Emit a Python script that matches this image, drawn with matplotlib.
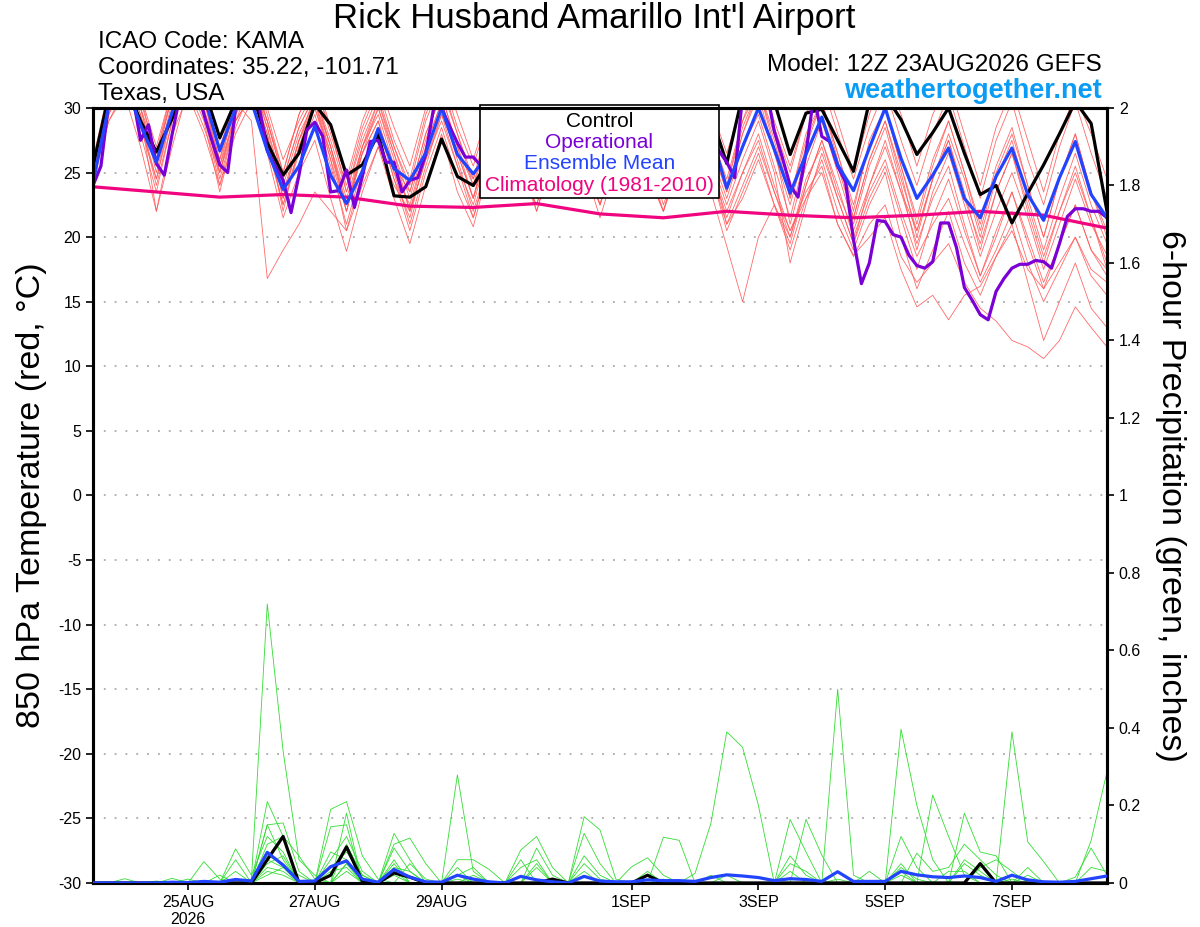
import numpy as np
import pandas as pd
import matplotlib
matplotlib.use("Agg")
import matplotlib.pyplot as plt
from matplotlib.patches import Rectangle

plt.rcParams['font.family'] = ['Liberation Sans', 'DejaVu Sans']
plt.rcParams['axes.unicode_minus'] = False

# time axis: GEFS 12Z 23AUG2026, 6-hourly to 384h; operational 3-hourly
times6 = pd.date_range('2026-08-23 12:00', periods=65, freq='6h')
times3 = pd.date_range('2026-08-23 12:00', periods=129, freq='3h')

tick_dates = ['2026-08-25', '2026-08-27', '2026-08-29', '2026-09-01',
              '2026-09-03', '2026-09-05', '2026-09-07']
tick_labels = ['25AUG\n2026', '27AUG', '29AUG', '1SEP', '3SEP', '5SEP', '7SEP']

# 850 hPa temperature (C)
control_t = [25.5, 31.0, 32.0, 29.0, 26.6, 29.2, 32.5, 31.5, 27.7, 30.5, 31.5, 27.3,
             24.8, 26.5, 30.3, 28.7, 24.8, 25.6, 28.0, 23.2, 23.1, 23.9, 27.6, 24.7,
             24.0, 26.0, 30.5, 28.0, 25.5, 28.0, 31.0, 28.0, 26.0, 28.0, 31.0, 29.0,
             26.5, 28.5, 31.0, 29.5, 25.7, 31.0, 31.5, 30.5, 26.4, 29.6, 29.9, 27.5,
             25.1, 30.5, 31.0, 29.1, 26.4, 28.1, 30.0, 26.5, 23.3, 24.0, 21.1, 23.4,
             25.6, 28.0, 30.5, 28.8, 22.0]
mean_t = [24.2, 30.2, 32.0, 28.7, 25.8, 29.7, 32.5, 31.0, 26.7, 30.0, 30.5, 26.7,
          23.7, 25.5, 28.6, 24.8, 22.6, 25.1, 28.4, 25.3, 24.4, 26.5, 30.0, 26.4,
          24.9, 26.5, 30.0, 27.0, 25.0, 27.0, 30.5, 27.5, 25.0, 27.0, 30.0, 28.0,
          25.5, 27.0, 30.0, 28.0, 23.8, 27.0, 30.0, 26.8, 23.4, 26.4, 29.3, 25.6,
          23.6, 26.9, 30.0, 26.1, 23.0, 24.8, 26.9, 23.0, 21.5, 24.7, 26.9, 23.3,
          21.3, 24.6, 27.4, 23.3, 21.5]
oper_t = [24.0, 25.5, 30.5, 32.0, 33.0, 31.0, 27.5, 28.7, 25.7, 24.8, 28.0, 31.0,
          32.5, 32.0, 29.5, 27.5, 25.6, 25.0, 30.0, 31.5, 32.0, 30.0, 26.7, 25.5,
          24.4, 21.9, 24.8, 28.3, 28.9, 27.8, 23.5, 23.6, 25.2, 22.3, 24.7, 27.4,
          27.5, 25.8, 25.8, 23.5, 24.4, 24.6, 26.4, 30.0, 30.0, 28.6, 27.3, 26.2,
          26.2, 25.5, 26.0, 29.0, 31.0, 30.0, 28.0, 26.5, 25.5, 27.0, 30.0, 31.5,
          30.0, 28.0, 26.0, 25.5, 26.5, 29.0, 31.0, 30.0, 28.0, 26.0, 25.0, 26.5,
          29.0, 30.5, 30.0, 28.5, 26.5, 25.5, 27.0, 26.7, 25.8, 24.6, 31.0, 32.0,
          32.5, 31.5, 28.2, 26.2, 24.0, 23.1, 26.5, 31.0, 27.8, 27.4, 25.5, 24.3,
          19.8, 16.4, 18.0, 21.3, 21.2, 20.2, 20.0, 18.6, 17.8, 17.6, 18.1, 21.1,
          21.1, 19.2, 16.1, 15.1, 14.0, 13.6, 15.8, 16.8, 17.6, 17.9, 17.9, 18.2,
          18.1, 17.6, 19.5, 21.6, 22.2, 22.2, 22.0, 22.0, 21.5]
# climatology at 12Z each day
clim_times = pd.date_range('2026-08-23 12:00', periods=17, freq='24h')
clim_t = [23.9, 23.5, 23.1, 23.3, 23.1, 22.4, 22.3, 22.6, 21.8, 21.5, 22.0, 21.7,
          21.5, 21.7, 22.0, 21.7, 20.7]

# ensemble members (temperature)
t_m01 = [25.0, 30.5, 32.5, 28.5, 24.5, 30.0, 33.0, 30.5, 26.0, 31.0, 32.0, 28.0,
         23.0, 27.5, 30.5, 26.0, 22.0, 27.0, 29.5, 25.5, 23.5, 28.0, 31.0, 27.0,
         24.0, 27.5, 30.5, 26.0, 23.0, 26.5, 29.5, 25.5, 22.5, 27.0, 30.0, 26.0,
         23.0, 28.0, 31.0, 27.0, 24.0, 29.0, 31.5, 28.0, 23.0, 28.0, 30.5, 26.5,
         22.0, 27.5, 30.0, 25.5, 21.5, 26.0, 29.0, 25.0, 21.0, 25.5, 28.5, 24.0,
         20.0, 24.5, 28.0, 23.5, 20.5]
t_m02 = [24.5, 29.0, 31.5, 29.0, 26.0, 31.0, 33.0, 31.0, 27.0, 30.5, 29.0, 16.8,
         19.0, 21.0, 23.5, 22.0, 20.5, 24.0, 27.0, 24.0, 22.0, 26.0, 29.5, 26.5,
         24.5, 28.0, 31.5, 28.0, 25.0, 28.5, 32.0, 28.5, 24.0, 27.5, 31.0, 27.0,
         23.5, 27.0, 30.5, 26.0, 21.0, 23.0, 26.0, 22.5, 19.5, 24.0, 27.5, 24.0,
         20.0, 23.5, 26.0, 22.0, 18.5, 21.0, 23.0, 19.5, 16.5, 19.0, 22.0, 18.0,
         15.0, 17.5, 20.0, 17.0, 15.5]
t_m03 = [25.5, 31.0, 33.0, 30.0, 25.0, 30.0, 32.5, 29.5, 25.5, 29.5, 31.5, 27.5,
         22.5, 26.5, 29.5, 25.5, 21.0, 25.5, 28.5, 24.5, 21.5, 26.5, 30.0, 26.0,
         22.0, 26.0, 29.0, 25.0, 22.5, 26.5, 30.5, 27.0, 23.0, 27.5, 31.0, 27.0,
         23.5, 27.0, 28.0, 23.5, 19.3, 15.0, 20.0, 22.5, 20.0, 24.0, 27.5, 23.5,
         20.5, 24.0, 27.5, 23.5, 19.5, 23.0, 25.5, 21.0, 17.0, 20.5, 23.5, 19.5,
         16.0, 19.5, 22.5, 19.0, 17.5]
t_m04 = [24.0, 29.5, 32.0, 29.0, 24.0, 29.0, 31.5, 28.5, 25.0, 29.0, 31.0, 27.5,
         23.5, 27.5, 30.0, 26.5, 22.0, 26.5, 29.0, 25.0, 22.5, 27.0, 30.5, 26.5,
         23.0, 27.5, 31.0, 27.0, 24.0, 28.0, 31.5, 27.5, 23.5, 27.0, 30.0, 26.0,
         22.0, 25.5, 29.0, 25.5, 22.0, 25.0, 28.0, 24.0, 20.5, 23.5, 25.5, 21.0,
         18.5, 21.0, 22.5, 18.5, 16.5, 18.0, 19.5, 16.5, 14.5, 13.5, 12.0, 11.5,
         10.6, 12.0, 14.6, 13.0, 11.5]
t_m05 = [25.0, 30.0, 32.5, 29.5, 22.0, 28.0, 31.0, 28.0, 24.0, 29.0, 32.0, 29.0,
         24.5, 28.5, 31.0, 27.5, 23.5, 27.5, 30.5, 26.5, 22.0, 26.0, 29.0, 25.5,
         21.5, 25.5, 28.5, 25.0, 22.5, 27.0, 30.0, 26.5, 23.0, 27.5, 30.5, 27.0,
         22.5, 26.0, 28.5, 25.0, 21.0, 24.0, 27.0, 23.5, 20.5, 23.0, 25.0, 21.0,
         18.6, 20.0, 21.5, 17.5, 14.6, 15.5, 13.6, 15.5, 16.2, 18.5, 20.5, 17.5,
         16.0, 18.0, 20.0, 17.5, 16.5]
t_m06 = [24.5, 29.0, 31.0, 27.0, 22.0, 27.0, 31.5, 29.5, 25.5, 30.5, 33.0, 29.0,
         25.0, 29.5, 32.0, 28.0, 24.0, 28.5, 31.5, 27.5, 24.5, 29.5, 32.5, 28.5,
         25.5, 29.5, 32.0, 28.5, 24.5, 28.5, 31.5, 27.0, 23.5, 28.0, 31.0, 27.5,
         24.0, 28.5, 32.0, 28.0, 24.5, 29.0, 32.5, 28.5, 25.0, 29.5, 32.0, 28.0,
         24.5, 28.5, 31.5, 27.5, 24.0, 28.0, 31.0, 27.0, 23.0, 27.5, 30.5, 26.0,
         22.5, 27.0, 30.5, 26.5, 23.0]
t_m07 = [25.0, 30.5, 33.0, 30.5, 26.5, 31.0, 33.5, 30.0, 24.5, 29.0, 31.0, 26.5,
         21.5, 25.0, 27.5, 23.0, 18.9, 23.5, 27.0, 23.0, 19.5, 24.0, 28.0, 23.5,
         20.8, 25.5, 29.0, 25.5, 22.0, 26.5, 30.0, 26.0, 22.5, 27.0, 30.5, 26.5,
         23.0, 27.0, 30.0, 26.0, 22.5, 26.0, 29.0, 25.0, 18.0, 22.5, 26.5, 23.0,
         19.5, 24.0, 27.0, 23.5, 20.5, 24.5, 27.5, 23.5, 19.0, 23.5, 26.5, 22.5,
         18.5, 22.0, 25.0, 21.5, 18.0]
t_m08 = [25.5, 30.0, 32.0, 29.0, 24.5, 29.5, 32.0, 29.0, 23.5, 28.5, 31.5, 28.0,
         22.0, 27.0, 30.0, 26.0, 20.5, 25.0, 28.5, 25.0, 21.0, 25.5, 29.5, 25.5,
         22.5, 27.0, 30.5, 27.0, 23.5, 28.0, 31.5, 28.0, 24.5, 28.5, 31.5, 28.0,
         24.0, 27.5, 30.5, 26.5, 23.0, 27.0, 29.5, 25.5, 21.5, 26.5, 29.0, 25.0,
         21.0, 25.5, 28.5, 24.0, 19.0, 23.5, 26.5, 22.5, 18.5, 22.0, 25.0, 21.5,
         17.5, 21.0, 24.5, 21.0, 18.6]
t_m09 = [24.0, 30.0, 33.5, 31.0, 27.0, 31.5, 34.0, 31.5, 27.5, 31.0, 33.5, 30.0,
         26.0, 29.0, 31.5, 28.5, 24.5, 29.0, 32.0, 28.5, 25.5, 30.0, 33.0, 29.5,
         26.0, 30.0, 32.5, 29.0, 25.0, 29.5, 32.5, 29.0, 25.5, 30.0, 33.0, 29.5,
         26.0, 30.5, 33.5, 30.0, 26.5, 30.5, 33.0, 29.0, 25.5, 29.5, 32.5, 29.0,
         25.0, 29.5, 33.0, 29.5, 25.5, 29.5, 32.0, 28.0, 24.0, 28.5, 31.5, 27.5,
         23.5, 28.0, 31.0, 28.0, 24.5]
t_m10 = [25.5, 31.0, 33.0, 29.5, 25.5, 30.5, 33.0, 30.0, 26.0, 30.0, 32.5, 28.5,
         24.0, 28.0, 30.5, 26.5, 22.5, 26.5, 29.0, 24.5, 20.5, 25.0, 28.5, 24.5,
         21.5, 26.0, 29.5, 26.0, 23.0, 27.0, 30.0, 26.5, 22.5, 26.0, 29.0, 25.0,
         22.0, 26.5, 29.5, 25.5, 21.5, 25.0, 27.5, 23.5, 20.0, 24.5, 27.0, 23.0,
         19.5, 23.0, 25.5, 21.5, 17.5, 21.5, 24.5, 20.5, 17.0, 20.0, 23.5, 20.0,
         16.5, 19.5, 22.5, 19.0, 17.0]
t_m11 = [24.5, 29.5, 32.5, 30.0, 26.5, 31.5, 34.0, 31.0, 25.0, 29.5, 32.0, 28.5,
         23.0, 27.5, 31.0, 27.0, 23.0, 27.0, 30.0, 26.5, 23.0, 27.5, 31.5, 28.0,
         24.0, 28.5, 31.5, 27.5, 24.5, 28.5, 31.0, 27.0, 24.0, 28.0, 31.5, 28.0,
         24.5, 28.5, 31.5, 27.5, 23.5, 28.0, 31.0, 26.5, 22.5, 27.0, 30.5, 26.5,
         22.5, 27.0, 30.0, 25.5, 21.0, 25.5, 29.0, 25.0, 20.5, 25.0, 28.0, 24.0,
         20.0, 24.5, 28.0, 23.5, 20.0]
t_m12 = [25.0, 30.5, 33.0, 30.0, 25.5, 30.0, 32.5, 29.5, 24.0, 28.0, 30.5, 27.0,
         22.5, 27.0, 30.5, 27.0, 22.5, 27.0, 30.5, 27.0, 23.5, 28.0, 31.0, 27.0,
         23.0, 27.0, 30.0, 26.5, 22.0, 26.0, 29.0, 25.5, 21.5, 25.5, 28.5, 25.0,
         22.0, 26.0, 29.0, 25.0, 20.5, 23.5, 26.5, 22.5, 19.0, 23.0, 26.0, 22.0,
         19.0, 22.5, 25.0, 20.0, 16.0, 19.0, 22.0, 18.0, 15.5, 18.5, 21.0, 16.5,
         12.0, 15.0, 18.0, 14.5, 13.0]
t_m13 = [26.0, 31.5, 34.0, 31.0, 26.0, 31.0, 33.5, 30.5, 26.5, 31.0, 33.0, 29.5,
         25.0, 29.5, 32.5, 28.5, 23.5, 28.0, 31.0, 27.0, 24.0, 29.0, 32.0, 28.0,
         24.5, 29.0, 32.0, 28.0, 24.0, 28.5, 31.5, 28.0, 24.5, 29.0, 32.0, 28.5,
         25.0, 29.5, 32.5, 28.5, 24.0, 28.5, 31.5, 27.0, 21.0, 25.5, 29.0, 25.5,
         21.5, 26.0, 29.0, 25.0, 20.0, 24.5, 28.0, 24.5, 20.0, 24.5, 27.5, 23.0,
         19.0, 23.0, 26.5, 22.5, 19.5]
t_m14 = [25.0, 30.0, 32.5, 28.0, 23.5, 29.0, 32.5, 29.5, 25.0, 30.0, 32.5, 29.0,
         24.5, 28.5, 31.0, 27.0, 22.0, 26.5, 30.0, 26.0, 22.0, 27.0, 30.5, 26.5,
         23.0, 28.0, 31.5, 27.5, 23.5, 28.0, 31.0, 27.5, 24.0, 28.5, 31.0, 27.0,
         23.0, 27.5, 30.5, 27.0, 23.5, 28.0, 31.5, 27.5, 23.0, 27.5, 30.5, 26.0,
         21.5, 26.0, 29.0, 24.5, 20.5, 24.5, 27.5, 23.0, 19.5, 23.5, 26.5, 22.0,
         18.0, 22.0, 25.5, 21.5, 17.5]
temp_members = [t_m01, t_m02, t_m03, t_m04, t_m05, t_m06, t_m07,
                t_m08, t_m09, t_m10, t_m11, t_m12, t_m13, t_m14]

# 6-hour precipitation (inches)
control_p = [0, 0, 0, 0, 0, 0, 0, 0, 0, 0, 0, 0.06,
             0.12, 0, 0, 0.02, 0.093, 0.005, 0, 0.026, 0.015, 0, 0, 0,
             0, 0, 0, 0, 0, 0.01, 0, 0, 0, 0, 0, 0.02,
             0, 0, 0, 0, 0, 0, 0, 0, 0, 0, 0, 0,
             0, 0, 0, 0, 0, 0, 0, 0, 0.05, 0, 0, 0,
             0, 0, 0, 0, 0]
mean_p = [0, 0, 0, 0, 0, 0.002, 0.001, 0.004, 0.002, 0.009, 0.005, 0.079,
          0.046, 0.004, 0.005, 0.042, 0.057, 0.01, 0.002, 0.035, 0.015, 0.003, 0.002, 0.02,
          0.01, 0.003, 0, 0.017, 0.008, 0.003, 0, 0.017, 0.005, 0.003, 0.003, 0.008,
          0.006, 0.006, 0.004, 0.014, 0.021, 0.018, 0.014, 0.006, 0.011, 0.009, 0.004, 0.029,
          0.004, 0.004, 0.004, 0.03, 0.021, 0.016, 0.014, 0.018, 0.014, 0.004, 0.02, 0.008,
          0.003, 0.002, 0.004, 0.011, 0.018]

# ensemble members (precip), non-zero 6h steps only
p_m01 = {10: 0.01, 11: 0.72, 12: 0.34, 13: 0.06, 14: 0.02, 19: 0.03, 23: 0.02, 31: 0.02,
         38: 0.025, 39: 0.154, 40: 0.39, 41: 0.35, 42: 0.2, 47: 0.03, 51: 0.02, 58: 0.01}
p_m02 = {11: 0.21, 12: 0.12, 15: 0.19, 16: 0.21, 17: 0.07, 18: 0.01, 47: 0.5, 48: 0.02,
         51: 0.12, 52: 0.04}
p_m03 = {11: 0.15, 12: 0.155, 13: 0.03, 16: 0.18, 19: 0.128, 20: 0.06, 23: 0.279, 24: 0.03,
         51: 0.397, 52: 0.2, 53: 0.06}
p_m04 = {5: 0.012, 9: 0.088, 10: 0.02, 11: 0.12, 12: 0.08, 15: 0.145, 16: 0.15, 19: 0.1,
         20: 0.116, 21: 0.05, 27: 0.085, 28: 0.12, 29: 0.04, 31: 0.171, 32: 0.137, 33: 0.01,
         36: 0.118, 37: 0.11}
p_m05 = {2: 0.011, 7: 0.055, 8: 0.01, 11: 0.1, 12: 0.12, 13: 0.07, 14: 0.01, 16: 0.1,
         17: 0.02, 23: 0.06, 24: 0.06, 25: 0.035, 31: 0.128, 32: 0.05, 44: 0.164, 45: 0.08,
         53: 0.227, 54: 0.12, 55: 0.02}
p_m06 = {9: 0.06, 11: 0.07, 12: 0.05, 15: 0.08, 16: 0.06, 19: 0.09, 20: 0.03, 28: 0.09,
         29: 0.02, 34: 0.042, 35: 0.065, 36: 0.02, 45: 0.164, 46: 0.072, 55: 0.18, 56: 0.08,
         57: 0.07}
p_m07 = {8: 0.02, 11: 0.05, 12: 0.07, 15: 0.06, 16: 0.12, 17: 0.03, 23: 0.04, 27: 0.06,
         31: 0.07, 32: 0.02, 39: 0.02, 44: 0.07, 45: 0.02, 51: 0.05, 58: 0.39, 59: 0.106,
         60: 0.055}
p_m08 = {6: 0.01, 11: 0.04, 12: 0.03, 16: 0.05, 19: 0.05, 23: 0.02, 24: 0.04, 28: 0.05,
         35: 0.03, 52: 0.077, 53: 0.03, 54: 0.04, 55: 0.1, 56: 0.06, 57: 0.02, 63: 0.11,
         64: 0.287}
p_m09 = {9: 0.03, 11: 0.03, 12: 0.02, 15: 0.03, 16: 0.04, 19: 0.06, 31: 0.03, 35: 0.02,
         44: 0.03, 51: 0.03, 55: 0.06, 56: 0.03, 59: 0.04, 62: 0.015, 63: 0.09, 64: 0.02}
p_m10 = {11: 0.02, 12: 0.04, 13: 0.02, 16: 0.03, 19: 0.04, 20: 0.03, 23: 0.01, 27: 0.04,
         28: 0.06, 36: 0.01, 40: 0.02, 47: 0.01, 56: 0.04, 57: 0.06, 58: 0.03}
p_m11 = {11: 0.06, 12: 0.04, 15: 0.04, 16: 0.08, 17: 0.02, 19: 0.02, 24: 0.02, 31: 0.05,
         32: 0.01, 49: 0.03, 51: 0.04, 52: 0.01, 55: 0.05, 56: 0.02, 63: 0.04, 64: 0.03}
p_m12 = {4: 0.005, 11: 0.15, 12: 0.06, 16: 0.05, 17: 0.01, 20: 0.05, 21: 0.01, 28: 0.04,
         44: 0.05, 45: 0.03, 54: 0.03, 55: 0.03, 59: 0.02}
precip_members = [p_m01, p_m02, p_m03, p_m04, p_m05, p_m06,
                  p_m07, p_m08, p_m09, p_m10, p_m11, p_m12]

fig = plt.figure(figsize=(12, 9.27), dpi=100)
ax = fig.add_axes([0.0775, 0.0475, 0.845, 0.836])
ax2 = ax.twinx()

for m in temp_members:
    ax.plot(times6, m, color='#ff5a5a', lw=0.6, alpha=0.9, zorder=2)
ax.plot(clim_times, clim_t, color='#f0047f', lw=2.3, zorder=4)
ax.plot(times6, control_t, color='black', lw=2.3, zorder=5)
ax.plot(times3, oper_t, color='#7a00d6', lw=2.3, zorder=6)
ax.plot(times6, mean_t, color='#2244ff', lw=2.3, zorder=7)

for m in precip_members:
    vals = np.zeros(len(times6))
    for k, v in m.items():
        vals[k] = v
    ax2.plot(times6, vals, color='#33dd33', lw=0.6, zorder=2)
ax2.plot(times6, control_p, color='black', lw=2.3, zorder=5)
ax2.plot(times6, mean_p, color='#2244ff', lw=2.3, zorder=6)

ax.set_xlim(times6[0], times6[-1])
ax.set_ylim(-30, 30)
ax2.set_ylim(0, 2)

for yv in range(-25, 30, 5):
    ax.axhline(yv, color='#aaaaaa', lw=1.3, ls=(0, (1, 5)), zorder=1)

ax.set_yticks(range(-30, 31, 5))
ax2.set_yticks(np.arange(0, 2.01, 0.2))
ax2.set_yticklabels(['0', '0.2', '0.4', '0.6', '0.8', '1', '1.2', '1.4', '1.6', '1.8', '2'])
ax.set_xticks(pd.to_datetime(tick_dates))
ax.set_xticklabels(tick_labels)

for a in (ax, ax2):
    a.tick_params(labelsize=11.5, width=1.2, length=5, direction='out')
    for s in a.spines.values():
        s.set_linewidth(2.2)

ax.set_ylabel('850 hPa Temperature (red, °C)', fontsize=24.5, labelpad=8)
ax2.set_ylabel('6-hour Precipitation (green, inches)', fontsize=24.5,
               rotation=270, labelpad=32)

# legend box
ax.add_patch(Rectangle((0.3817, 0.884), 0.2357, 0.12, transform=ax.transAxes,
                       facecolor='white', edgecolor='black', lw=1.2, zorder=10,
                       clip_on=False))
legend_items = [('Control', 'black'), ('Operational', '#7a00d6'),
                ('Ensemble Mean', '#2244ff'), ('Climatology (1981-2010)', '#f0047f')]
for k, (txt, col) in enumerate(legend_items):
    ax.text(0.4995, 0.983 - k * 0.0275, txt, color=col, fontsize=15,
            ha='center', va='center', transform=ax.transAxes, zorder=11)

fig.text(0.495, 0.980, "Rick Husband Amarillo Int'l Airport", fontsize=25,
         ha='center', va='center')
fig.text(0.0817, 0.955, 'ICAO Code: KAMA', fontsize=17.5, ha='left', va='center')
fig.text(0.0817, 0.927, 'Coordinates: 35.22, -101.71', fontsize=17.5, ha='left', va='center')
fig.text(0.0817, 0.899, 'Texas, USA', fontsize=17.5, ha='left', va='center')
fig.text(0.918, 0.930, 'Model: 12Z 23AUG2026 GEFS', fontsize=17.5, ha='right', va='center')
fig.text(0.918, 0.902, 'weathertogether.net', fontsize=19.5, fontweight='bold',
         color='#0a9cf5', ha='right', va='center')

fig.savefig('out.png', dpi=100)
